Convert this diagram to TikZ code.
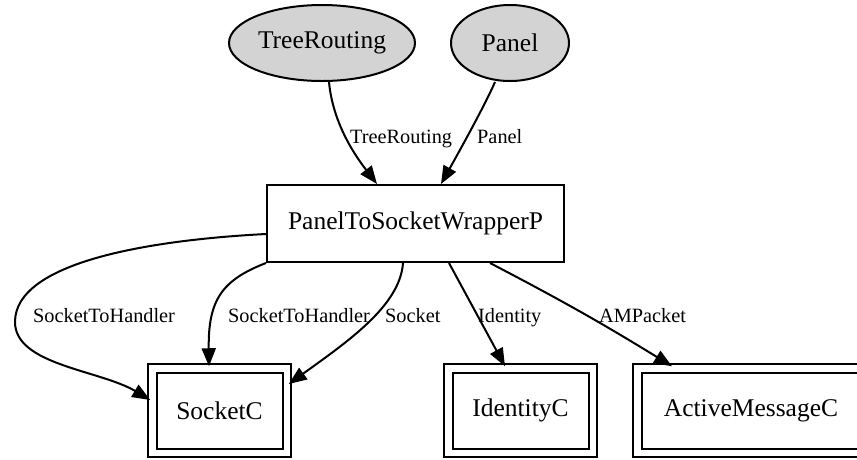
\documentclass[tikz,border=0pt]{standalone}
\usepackage{fontspec}
\setmainfont{Liberation Serif}
\usetikzlibrary{shapes.geometric,arrows.meta}
\definecolor{gvgray}{HTML}{D3D3D3}
\begin{document}
\begin{tikzpicture}[x=1pt,y=-1pt,
  conn/.style={draw, line width=2pt, -{Triangle[length=18pt,width=14pt]}},
  iface/.style={ellipse, draw, line width=2pt, fill=gvgray, inner sep=0pt,
    minimum height=76pt, font={\fontsize{25.5pt}{30pt}\selectfont}},
  modbox/.style={rectangle, draw, line width=2pt, inner sep=0pt,
    minimum width=297pt, minimum height=77pt, font={\fontsize{25.5pt}{30pt}\selectfont}},
  cfgbox/.style={rectangle, draw, line width=2pt, double=white, double distance=6.5pt,
    inner sep=0pt, outer sep=2pt, minimum height=84.5pt,
    font={\fontsize{25.5pt}{30pt}\selectfont}},
  elab/.style={anchor=base west, inner sep=0pt, font={\fontsize{20.3pt}{24pt}\selectfont}}
]
\useasboundingbox (0,0) rectangle (857,459);
\clip (0,0) rectangle (857,459);

\node[iface, minimum width=186pt] (TR) at (322,43) {TreeRouting};
\node[iface, minimum width=118pt] (PN) at (510,43) {Panel};
\node[modbox] (PW) at (415.5,223.5) {PanelToSocketWrapperP};
\node[cfgbox, minimum width=134.5pt] (SC) at (219.5,410.5) {SocketC};
\node[cfgbox, minimum width=144.5pt] (ID) at (520.5,410.5) {IdentityC};
\node[cfgbox, minimum width=227.5pt] (AM) at (751,410.5) {ActiveMessageC};

\coordinate (loop) at (15,322);

\draw[conn] ([xshift=7pt]TR.south) .. controls (333,125) and (357,158) .. ([xshift=-38.5pt]PW.north);
\draw[conn] ([xshift=-15pt]PN.south) .. controls (485,105) and (460,150) .. ([xshift=25.5pt]PW.north);

\draw[conn] ([yshift=-10.5pt]PW.west) .. controls (150,240) and (15,262) .. (loop)
  .. controls (15,365) and (100,370) .. ([yshift=10.5pt]SC.west);
\draw[conn] (PW.south west) .. controls (222,280) and (208,300) .. ([xshift=-10.5pt]SC.north);
\draw[conn] ([xshift=-12.5pt]PW.south) .. controls (400,305) and (350,340) .. ([yshift=26.5pt]SC.east);
\draw[conn] ([xshift=33.5pt]PW.south) -- ([xshift=-15.5pt]ID.north);
\draw[conn] ([xshift=74.5pt]PW.south) to[bend left=2] ([xshift=-79pt]AM.north);

\node[elab] (lTR) at (350,143) {TreeRouting};
\node[elab] (lPN) at (477,143) {Panel};
\node[elab] (lSH1) at (33,322) {SocketToHandler};
\node[elab] (lSH2) at (228,322) {SocketToHandler};
\node[elab] (lSO) at (385,322) {Socket};
\node[elab] (lID) at (478,322) {Identity};
\node[elab] (lAM) at (599,322) {AMPacket};
\end{tikzpicture}
\end{document}
